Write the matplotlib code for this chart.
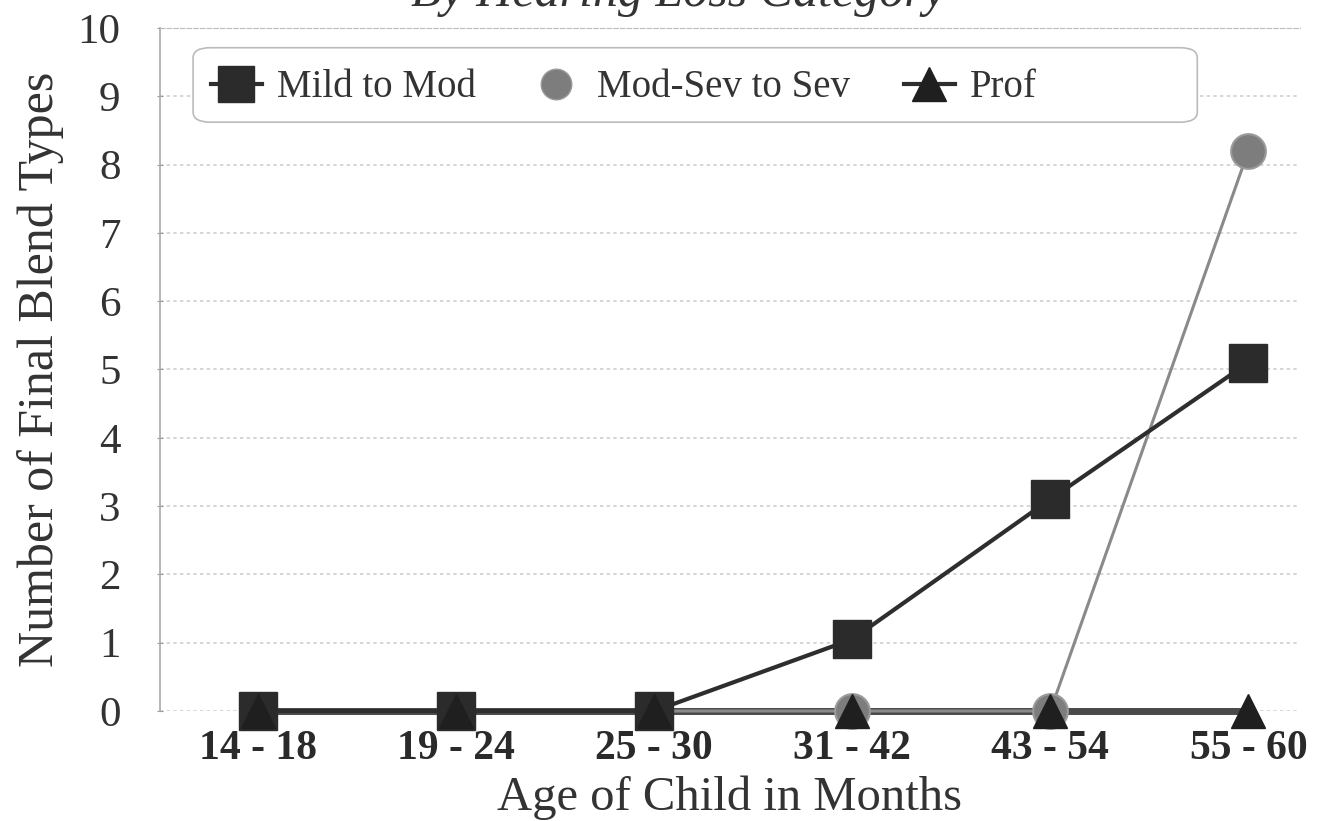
import matplotlib
matplotlib.use("Agg")
import matplotlib.pyplot as plt
from matplotlib.lines import Line2D
from matplotlib.patches import FancyBboxPatch

categories = ["14 - 18", "19 - 24", "25 - 30", "31 - 42", "43 - 54", "55 - 60"]
mild_to_mod = [0, 0, 0, 1.05, 3.1, 5.1]
mod_sev_to_sev = [0, 0, 0, 0, 0, 8.2]
prof = [0, 0, 0, 0, 0, 0]
y_ticks = list(range(0, 11))

SERIF = ["Liberation Serif", "DejaVu Serif"]
plt.rcParams["font.family"] = SERIF

fig = plt.figure(figsize=(13.17, 8.21), dpi=100)
ax = fig.add_axes([0.1215, 0.134, 0.8655, 0.832])

x = list(range(len(categories)))

# draw order: gray circles, prof line, squares, triangles
ax.plot(x, mod_sev_to_sev, color="#8a8a8a", lw=2.2, marker="o", ms=25,
        mfc="#7d7d7d", mec="#9a9a9a", mew=1.5, zorder=3, clip_on=False)
ax.plot(x, prof, color="#4a4a4a", lw=5, zorder=2, clip_on=False)
ax.plot(x, mild_to_mod, color="#2e2e2e", lw=3, marker="s", ms=27,
        mfc="#2b2b2b", mec="#2b2b2b", zorder=4, clip_on=False)
ax.plot(x, prof, color="none", lw=0, marker="^", ms=24,
        mfc="#1f1f1f", mec="#1f1f1f", zorder=5, clip_on=False)

ax.set_xlim(-0.495, 5.26)
ax.set_ylim(0, 10)
ax.set_yticks(y_ticks)
ax.set_yticklabels([str(v) for v in y_ticks], fontsize=31, color="#333333")
ax.set_xticks(x)
ax.set_xticklabels(categories, fontsize=30, fontweight="bold", color="#2a2a2a")
ax.tick_params(axis="x", length=0, pad=14)
ax.tick_params(axis="y", length=5, direction="inout", color="#999999", pad=26)

ax.grid(axis="y", color="#cfcfcf", lw=1.2, ls=(0, (2, 2)))
ax.set_axisbelow(True)
for s in ["right", "bottom"]:
    ax.spines[s].set_visible(False)
ax.spines["left"].set_color("#aaaaaa")
ax.spines["left"].set_linewidth(1.2)
ax.spines["top"].set_color("#bbbbbb")
ax.spines["top"].set_linestyle((0, (4, 2)))

ax.set_xlabel("Age of Child in Months", fontsize=35, color="#333333", labelpad=5)
ax.set_ylabel("Number of Final Blend Types", fontsize=36, color="#333333", labelpad=10)

fig.text(0.515, 1.008, "By Hearing Loss Category", fontsize=36, style="italic",
         ha="center", va="center", color="#333333")

# legend box (rounded) spanning wider than entries, as in reference
box = FancyBboxPatch((0.029, 0.862), 0.881, 0.109, transform=ax.transAxes,
                     boxstyle="round,pad=0,rounding_size=0.015",
                     facecolor="white", edgecolor="#bbbbbb", lw=1.2, zorder=6)
ax.add_patch(box)

handles = [
    Line2D([], [], color="#2e2e2e", lw=3, marker="s", ms=26, mfc="#2b2b2b", mec="#2b2b2b"),
    Line2D([], [], color="none", lw=0, marker="o", ms=22, mfc="#7d7d7d", mec="#9a9a9a"),
    Line2D([], [], color="#2e2e2e", lw=3, marker="^", ms=24, mfc="#1f1f1f", mec="#1f1f1f"),
]
leg = ax.legend(handles, ["Mild to Mod", "Mod-Sev to Sev", "Prof"], ncol=3,
                loc="center left", bbox_to_anchor=(0.038, 0.9125), fontsize=28,
                frameon=False, handlelength=1.3, handletextpad=0.4,
                columnspacing=1.4, borderpad=0.2, borderaxespad=0)
leg.set_zorder(7)
for t in leg.get_texts():
    t.set_color("#333333")

fig.savefig("out.png", dpi=100)
